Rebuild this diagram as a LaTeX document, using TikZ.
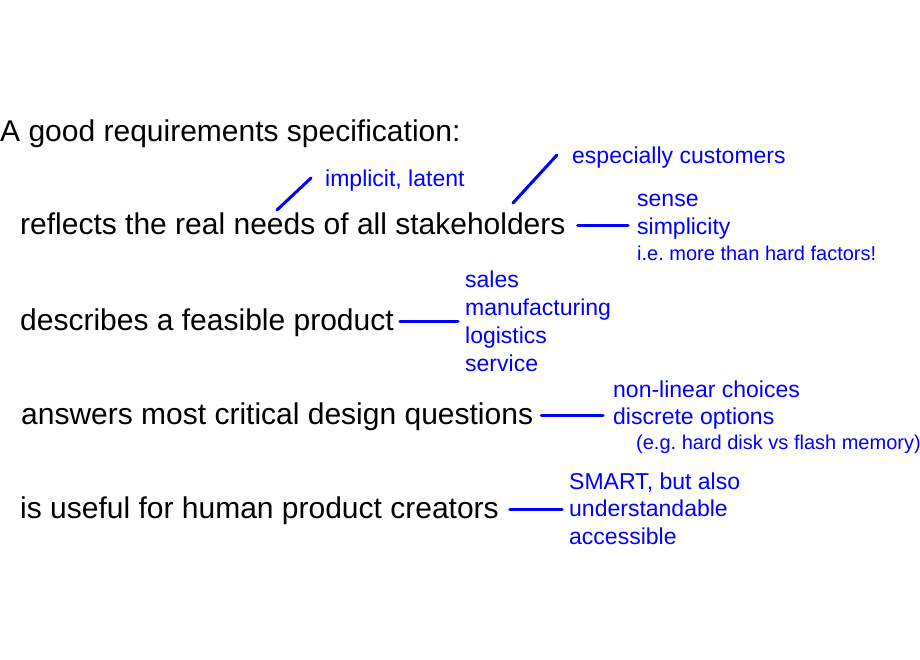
\documentclass[tikz,border=0pt]{standalone}
\usepackage{fontspec}
\setmainfont{Liberation Sans}
\usetikzlibrary{calc}
\frenchspacing

\begin{document}
\begin{tikzpicture}[x=1pt, y=-1pt,
    need/.style={anchor=base west, inner sep=0pt, text height=18pt, text depth=0pt, font=\fontsize{30}{36}\selectfont},
    note/.style={anchor=base west, inner sep=0pt, text=blue, font=\fontsize{23}{28}\selectfont},
    small note/.style={note, font=\fontsize{20}{25}\selectfont},
    link/.style={draw=blue, line width=3pt, line cap=round}]
  \useasboundingbox (0,0) rectangle (920,660);

  \node (title) [need] at (0,142) {A good requirements specification:};

  \node (reflects) [need] at (20,235) {reflects the real needs of all stakeholders};
  \node (describes) [need] at (20,330) {describes a feasible product};
  \node (answers) [need] at (21,424) {answers most critical design questions};
  \node (useful) [need] at (20,518) {is useful for human product creators};

  % remarks on the stakeholders
  \node (implicit) [note] at (325,187) {implicit, latent};
  \node (customers) [note] at (572,164) {especially customers};
  \node (sense) [note] at (637,207) {sense};
  \node (simplicity) [note] at (637,235) {simplicity};
  \node (softfactors) [small note] at (637,260) {i.e. more than hard factors!};

  % feasible for
  \node (sales) [note] at (465,287) {sales};
  \node (manufacturing) [note] at (465,315) {manufacturing};
  \node (logistics) [note] at (465,343) {logistics};
  \node (service) [note] at (465,371) {service};

  % design questions
  \node (nonlinear) [note] at (613,397) {non-linear choices};
  \node (discrete) [note] at (613,424) {discrete options};
  \node (flash) [small note] at (636,449) {(e.g. hard disk vs flash memory)};

  % useful
  \node (smart) [note] at (569,489) {SMART, but also};
  \node (understandable) [note] at (569,516) {understandable};
  \node (accessible) [note] at (569,544) {accessible};

  \coordinate (implicit-foot) at (277,210);
  \coordinate (customers-foot) at (513,203);

  \path [link]
  (implicit-foot) edge ($(implicit.base west)+(-14,-9)$)
  (customers-foot) edge ($(customers.base west)+(-15,-9)$)
  (reflects.east) edge[shorten <=12pt, shorten >=9pt] (reflects.east -| simplicity.west)
  (describes.east) edge[shorten <=6pt, shorten >=7pt] (describes.east -| manufacturing.west)
  (answers.east) edge[shorten <=8pt, shorten >=10pt] (answers.east -| discrete.west)
  (useful.east) edge[shorten <=11pt, shorten >=7pt] (useful.east -| understandable.west);
\end{tikzpicture}
\end{document}
